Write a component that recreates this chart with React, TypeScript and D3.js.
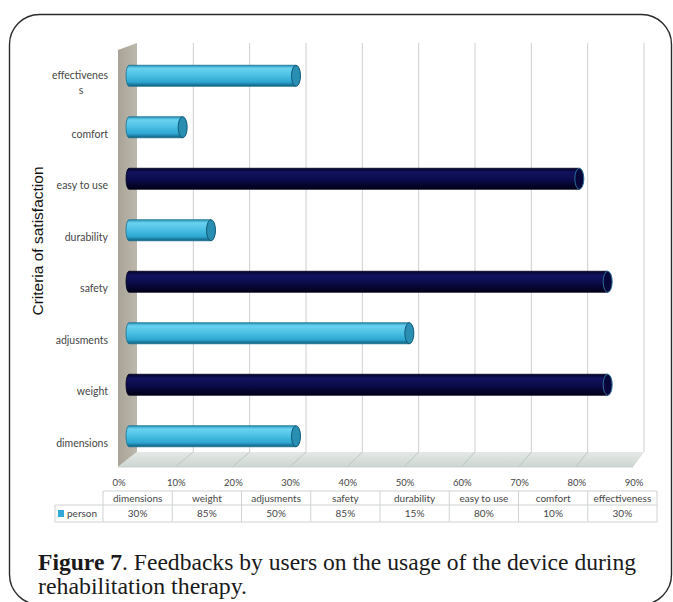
import React from "react";
import * as d3 from "d3";

// ---- data ----
const categories = ["dimensions", "weight", "adjusments", "safety", "durability", "easy to use", "comfort", "effectiveness"];
const axisLabels = [["dimensions"], ["weight"], ["adjusments"], ["safety"], ["durability"], ["easy to use"], ["comfort"], ["effectivenes", "s"]];
const values = [30, 85, 50, 85, 15, 80, 10, 30];
const barTones = ["light", "dark", "light", "dark", "light", "dark", "light", "light"];
const tickValues = [0, 10, 20, 30, 40, 50, 60, 70, 80, 90];
const seriesName = "person";
const yTitle = "Criteria of satisfaction";
const captionBold = "Figure 7";
const captionLine1 = ". Feedbacks by users on the usage of the device during";
const captionLine2 = "rehabilitation therapy.";

const W = 673;
const H = 602;

export default function App() {
  const xFront = d3.scaleLinear().domain([0, 90]).range([118, 633]);
  const xBack = d3.scaleLinear().domain([0, 90]).range([137, 644]);
  const xMid = d3.scaleLinear().domain([0, 90]).range([126, 636]);
  const y = d3.scaleBand<string>().domain([...categories].reverse()).range([50, 462]).padding(0);
  const col = d3.scaleBand<string>().domain(categories).range([103, 657]);

  const floorBackY = 452;
  const floorFrontY = 467;
  const gridTop = 43;
  const barH = 21;
  const labelFont = "Lato, 'Open Sans', sans-serif";
  const labelColor = "#464646";

  const tableTop = 491;
  const tableMid = 505;
  const tableBot = 522;

  return (
    <svg width={W} height={H} style={{ position: "absolute", left: 0, top: 0, background: "#fff" }}>
      <defs>
        <linearGradient id="gLight" x1="0" y1="0" x2="0" y2="1">
          <stop offset="0" stopColor="#2a95bd" />
          <stop offset="0.15" stopColor="#6ad2f0" />
          <stop offset="0.45" stopColor="#4ec2e6" />
          <stop offset="0.8" stopColor="#2ea7d2" />
          <stop offset="1" stopColor="#0e5e7e" />
        </linearGradient>
        <linearGradient id="gDark" x1="0" y1="0" x2="0" y2="1">
          <stop offset="0" stopColor="#03032a" />
          <stop offset="0.2" stopColor="#12125e" />
          <stop offset="0.55" stopColor="#0b0b4a" />
          <stop offset="1" stopColor="#000016" />
        </linearGradient>
        <linearGradient id="gFloor" x1="0" y1="0" x2="0" y2="1">
          <stop offset="0" stopColor="#e4e9e6" />
          <stop offset="1" stopColor="#cdd6d1" />
        </linearGradient>
        <linearGradient id="gWall" x1="0" y1="0" x2="1" y2="0">
          <stop offset="0" stopColor="#a9a397" />
          <stop offset="1" stopColor="#bdb8ad" />
        </linearGradient>
      </defs>

      {/* frame */}
      <rect x={9.5} y={14.5} width={662} height={590} rx={30} ry={30} fill="none" stroke="#2b2b2b" strokeWidth={1.4} />

      {/* back wall gridlines */}
      {tickValues.slice(1).map((t) => (
        <line key={"g" + t} x1={xBack(t)} x2={xBack(t)} y1={gridTop} y2={floorBackY} stroke="#cfcfcf" strokeWidth={1} />
      ))}

      {/* left wall */}
      <path
        d={`M${xFront(0)},${gridTop + 7} L${xBack(0)},${gridTop} L${xBack(0)},${floorBackY} L${xFront(0)},${floorFrontY} Z`}
        fill="url(#gWall)"
      />

      {/* floor */}
      <path
        d={`M${xFront(0)},${floorFrontY} L${xBack(0)},${floorBackY} L${xBack(90)},${floorBackY} L${xFront(90)},${floorFrontY} Z`}
        fill="url(#gFloor)"
      />
      {tickValues.slice(1, -1).map((t) => (
        <line key={"f" + t} x1={xFront(t)} y1={floorFrontY} x2={xBack(t)} y2={floorBackY} stroke="#b9c3bd" strokeWidth={0.9} />
      ))}
      <line x1={xFront(0)} x2={xFront(90)} y1={floorFrontY} y2={floorFrontY} stroke="#c3ccc7" strokeWidth={0.8} />

      {/* bars */}
      {categories.map((c, i) => {
        const cy = (y(c) as number) + y.bandwidth() / 2;
        const x0 = xMid(0);
        const x1 = xMid(values[i]);
        const top = cy - barH / 2;
        const dark = barTones[i] === "dark";
        const rx = 4.5;
        const ry = barH / 2;
        return (
          <g key={c}>
            <path
              d={`M${x0 + 3},${top} L${x1},${top} L${x1},${top + barH} L${x0 + 3},${top + barH} A3,${ry} 0 0 1 ${x0 + 3},${top} Z`}
              fill={dark ? "url(#gDark)" : "url(#gLight)"}
              stroke={dark ? "#00001a" : "#17708f"}
              strokeWidth={0.8}
            />
            <ellipse
              cx={x1}
              cy={cy}
              rx={rx}
              ry={ry}
              fill={dark ? "#06063a" : "#2a8db2"}
              stroke={dark ? "#2b6f9a" : "#0f5a78"}
              strokeWidth={1}
            />
          </g>
        );
      })}

      {/* category labels */}
      {categories.map((c, i) => {
        const cy = (y(c) as number) + y.bandwidth() / 2 + 7;
        const lines = axisLabels[i];
        if (lines.length === 1) {
          return (
            <text key={"l" + c} x={108} y={cy} dy="0.35em" textAnchor="end" fontFamily={labelFont} fontSize={10.5} fill={labelColor}>
              {lines[0]}
            </text>
          );
        }
        return (
          <g key={"l" + c}>
            <text x={108} y={cy - 7.5} dy="0.35em" textAnchor="end" fontFamily={labelFont} fontSize={10.5} fill={labelColor}>
              {lines[0]}
            </text>
            <text x={81} y={cy + 7.5} dy="0.35em" textAnchor="middle" fontFamily={labelFont} fontSize={10.5} fill={labelColor}>
              {lines[1]}
            </text>
          </g>
        );
      })}

      {/* y title */}
      <text
        transform={`translate(43,${241}) rotate(-90)`}
        textAnchor="middle"
        fontFamily="'Liberation Sans', Arial, sans-serif"
        fontSize={15.5}
        fill="#111"
      >
        {yTitle}
      </text>

      {/* x tick labels */}
      {tickValues.map((t) => (
        <text key={"t" + t} x={xFront(t) + 1} y={483} dy="0.35em" textAnchor="middle" fontFamily={labelFont} fontSize={9.5} fill={labelColor}>
          {t + "%"}
        </text>
      ))}

      {/* data table */}
      <g stroke="#cfd3d3" strokeWidth={1} fill="none">
        <line x1={103} x2={657} y1={tableTop} y2={tableTop} />
        <line x1={55} x2={657} y1={tableMid} y2={tableMid} />
        <line x1={55} x2={657} y1={tableBot} y2={tableBot} />
        <line x1={55} x2={55} y1={tableMid} y2={tableBot} />
        {categories.map((c) => (
          <line key={"v" + c} x1={col(c) as number} x2={col(c) as number} y1={tableTop} y2={tableBot} />
        ))}
        <line x1={657} x2={657} y1={tableTop} y2={tableBot} />
      </g>
      {categories.map((c, i) => {
        const cx = (col(c) as number) + col.bandwidth() / 2;
        return (
          <g key={"c" + c}>
            <text x={cx} y={(tableTop + tableMid) / 2} dy="0.35em" textAnchor="middle" fontFamily={labelFont} fontSize={10} fill={labelColor}>
              {c}
            </text>
            <text x={cx} y={(tableMid + tableBot) / 2} dy="0.35em" textAnchor="middle" fontFamily={labelFont} fontSize={10} fill={labelColor}>
              {values[i] + "%"}
            </text>
          </g>
        );
      })}
      <rect x={58} y={510} width={6} height={7} fill="#2fa8da" />
      <text x={67} y={(tableMid + tableBot) / 2} dy="0.35em" fontFamily={labelFont} fontSize={10} fill={labelColor}>
        {seriesName}
      </text>

      {/* caption */}
      <text x={38} y={570} fontFamily="'Liberation Serif', 'DejaVu Serif', serif" fontSize={22.5} fill="#1a1a1a" textLength={598} lengthAdjust="spacingAndGlyphs">
        <tspan fontWeight="bold">{captionBold}</tspan>
        <tspan>{captionLine1}</tspan>
      </text>
      <text x={38} y={594} fontFamily="'Liberation Serif', 'DejaVu Serif', serif" fontSize={22.5} fill="#1a1a1a" textLength={209} lengthAdjust="spacingAndGlyphs">
        {captionLine2}
      </text>
    </svg>
  );
}
